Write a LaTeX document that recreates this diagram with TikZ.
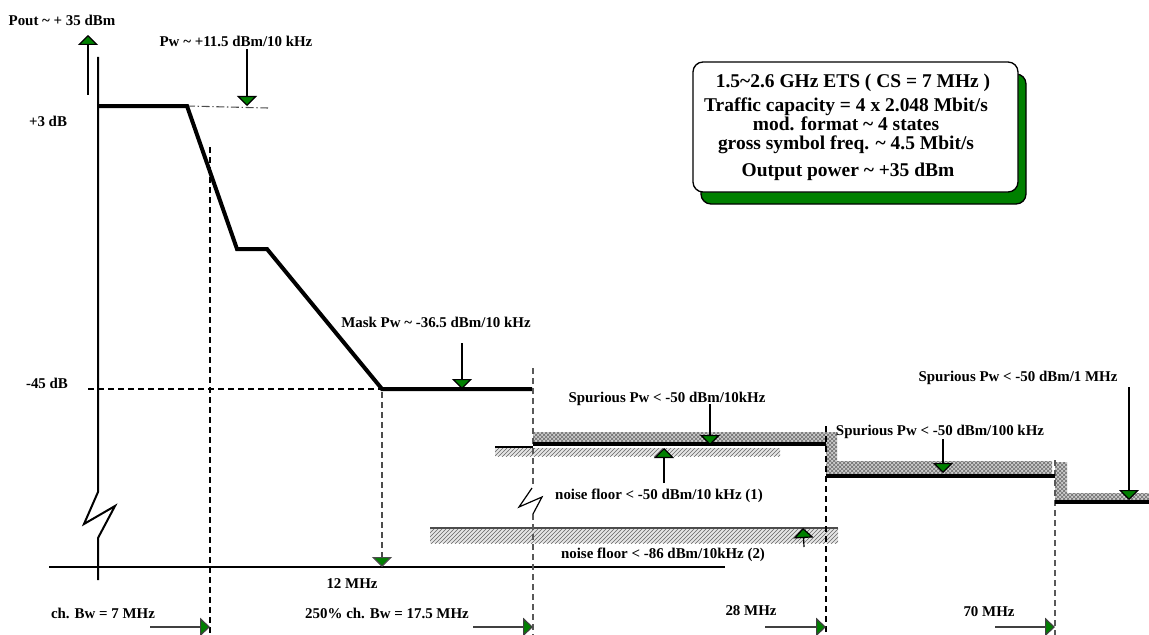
\documentclass[tikz,border=0pt]{standalone}
\usepackage{fontspec}
\setmainfont{Liberation Serif}
\usetikzlibrary{arrows.meta,patterns}
\definecolor{tri}{RGB}{0,128,0}
\begin{document}
\begin{tikzpicture}[x=0.75pt,y=-0.75pt,
  lbl/.style={font=\fontsize{11.2}{13}\selectfont\bfseries, inner sep=0pt, anchor=base},
  boxtxt/.style={font=\fontsize{14.6}{17}\selectfont\bfseries, inner sep=0pt, anchor=base},
  maskline/.style={line width=3pt, line join=miter},
  gdown/.style={line width=0.9pt, -{Triangle[width=15pt,length=7.5pt,fill=tri]}},
  gside/.style={line width=0.9pt, draw=black!75, -{Triangle[width=14pt,length=7.5pt,fill=tri]}},
  vdash/.style={line width=1.6pt, dash pattern=on 4.5pt off 3pt},
  vdashg/.style={line width=1.1pt, draw=black!65, dash pattern=on 4.5pt off 3pt},
  spur/.style={fill=gray!40, postaction={pattern=crosshatch, pattern color=gray!85!black}},
  noiseband/.style={fill=gray!20, postaction={pattern=north east lines, pattern color=gray!80!black}},
]
\useasboundingbox (0,0) rectangle (1149,635);

% ---------- hatched bands ----------
\fill[spur] (533,432) -- (837,432) -- (837,461) -- (1052,461) -- (1052,476) -- (826,476) -- (826,444) -- (533,444) -- cycle;
\fill[spur] (1055,462) -- (1067,462) -- (1067,493) -- (1149,493) -- (1149,502) -- (1055,502) -- cycle;
\fill[noiseband] (495,448) rectangle (780,456);
\draw[line width=0.8pt] (495,447) -- (533,447);
\fill[noiseband] (430,528) rectangle (838,543);
\draw[line width=1.2pt, draw=black!70] (430,528) -- (838,528);

% ---------- info box ----------
\fill[tri, draw=black, line width=1pt, rounded corners=7.5pt] (701,74) rectangle (1026,204);
\node[draw, fill=white, line width=1pt, rounded corners=7.5pt, minimum width=243.75pt, minimum height=97.5pt, inner sep=0pt] (infobox) at (855.5,127) {};
\node[boxtxt] (bl1) at (853,88) {1.5\textasciitilde2.6 GHz ETS ( CS = 7 MHz )};
\node[boxtxt] (bl2) at (846,111) {Traffic capacity = 4 x 2.048 Mbit/s};
\node[boxtxt] (bl3) at (846,130) {mod. format \textasciitilde\ 4 states};
\node[boxtxt] (bl4) at (846,149) {gross symbol freq. \textasciitilde\ 4.5 Mbit/s};
\node[boxtxt] (bl5) at (848,176) {Output power \textasciitilde\ +35 dBm};

% ---------- axis ----------
\draw[line width=1.5pt] (98,57) -- (98,492) -- (84,524) -- (115,506) -- (98,538) -- (98,580);
\draw[line width=1.2pt] (49,567) -- (725,567);

% ---------- dashed guides ----------
\draw[vdash, line width=1.4pt] (88,389) -- (382,389);
\draw[vdash] (210,147) -- (210,635);
\draw[vdashg] (533,368) -- (533,487);
\draw[line width=0.9pt] (532,488) -- (519,507) -- (542,497) -- (533,514);
\draw[vdashg] (533,514) -- (533,635);
\draw[vdash] (826,426) -- (826,635);
\draw[vdashg] (1055,460) -- (1055,635);
\draw[line width=0.8pt, draw=black!70, dash pattern=on 6pt off 2pt on 1pt off 2pt] (187,106) -- (268,108);

% ---------- mask and spurious levels ----------
\draw[maskline] (98,106) -- (187,106) -- (237,249) -- (267,249) -- (382,389) -- (532,389);
\draw[maskline] (533,444) -- (826,444);
\draw[maskline] (826,476) -- (1055,476);
\draw[maskline] (1055,502) -- (1149,502);

% ---------- labels ----------
\node[lbl] (pout) at (62,26) {Pout \textasciitilde\ + 35 dBm};
\node[lbl] (pw) at (236,47) {Pw \textasciitilde\ +11.5 dBm/10 kHz};
\node[lbl] (p3) at (48,127) {+3 dB};
\node[lbl] (m45) at (47,388) {-45 dB};
\node[lbl] (maskpw) at (436,327) {Mask Pw \textasciitilde\ -36.5 dBm/10 kHz};
\node[lbl] (sp1) at (667,402) {Spurious Pw < -50 dBm/10kHz};
\node[lbl] (sp2) at (940,435) {Spurious Pw < -50 dBm/100 kHz};
\node[lbl] (sp3) at (1018,381) {Spurious Pw < -50 dBm/1 MHz};
\node[lbl] (nf1) at (659,499) {noise floor < -50 dBm/10 kHz (1)};
\node[lbl] (nf2) at (663,558) {noise floor < -86 dBm/10kHz (2)};
\node[lbl] (f12) at (352,588) {12 MHz};
\node[lbl] (chbw) at (103,618) {ch. Bw = 7 MHz};
\node[lbl] (chbw2) at (387,618) {250\% ch. Bw = 17.5 MHz};
\node[lbl] (f28) at (751,615) {28 MHz};
\node[lbl] (f70) at (989,616) {70 MHz};

% ---------- arrow end points ----------
\coordinate (poutA) at (88,95);   \coordinate (poutB) at (88,35);
\coordinate (pwA) at (247,49);    \coordinate (pwB) at (247,106);
\coordinate (mkA) at (462,343);   \coordinate (mkB) at (462,389);
\coordinate (s1A) at (710,404);   \coordinate (s1B) at (710,445);
\coordinate (s2A) at (943,439);   \coordinate (s2B) at (943,473);
\coordinate (s3A) at (1129,387);  \coordinate (s3B) at (1129,500);
\coordinate (n1A) at (664,483);   \coordinate (n1B) at (664,448);
\coordinate (n2A) at (804,547);   \coordinate (n2B) at (803,528);
\coordinate (f12A) at (382,392);  \coordinate (f12B) at (382,567);
\coordinate (a1A) at (150,627);   \coordinate (a1B) at (210,627);
\coordinate (a2A) at (473,627);   \coordinate (a2B) at (533,627);
\coordinate (a3A) at (765,627);   \coordinate (a3B) at (826,627);
\coordinate (a4A) at (995,627);   \coordinate (a4B) at (1055,627);

\draw[gdown] (poutA) -- (poutB);
\draw[gdown] (pwA) -- (pwB);
\draw[gdown] (mkA) -- (mkB);
\draw[gdown] (s1A) -- (s1B);
\draw[gdown] (s2A) -- (s2B);
\draw[gdown] (s3A) -- (s3B);
\draw[gdown] (n1A) -- (n1B);
\draw[gdown] (n2A) -- (n2B);
\draw[gdown, draw=black!70, dash pattern=on 4.5pt off 3pt] (f12A) -- (f12B);
\draw[gside] (a1A) -- (a1B);
\draw[gside] (a2A) -- (a2B);
\draw[gside] (a3A) -- (a3B);
\draw[gside] (a4A) -- (a4B);
\end{tikzpicture}
\end{document}
